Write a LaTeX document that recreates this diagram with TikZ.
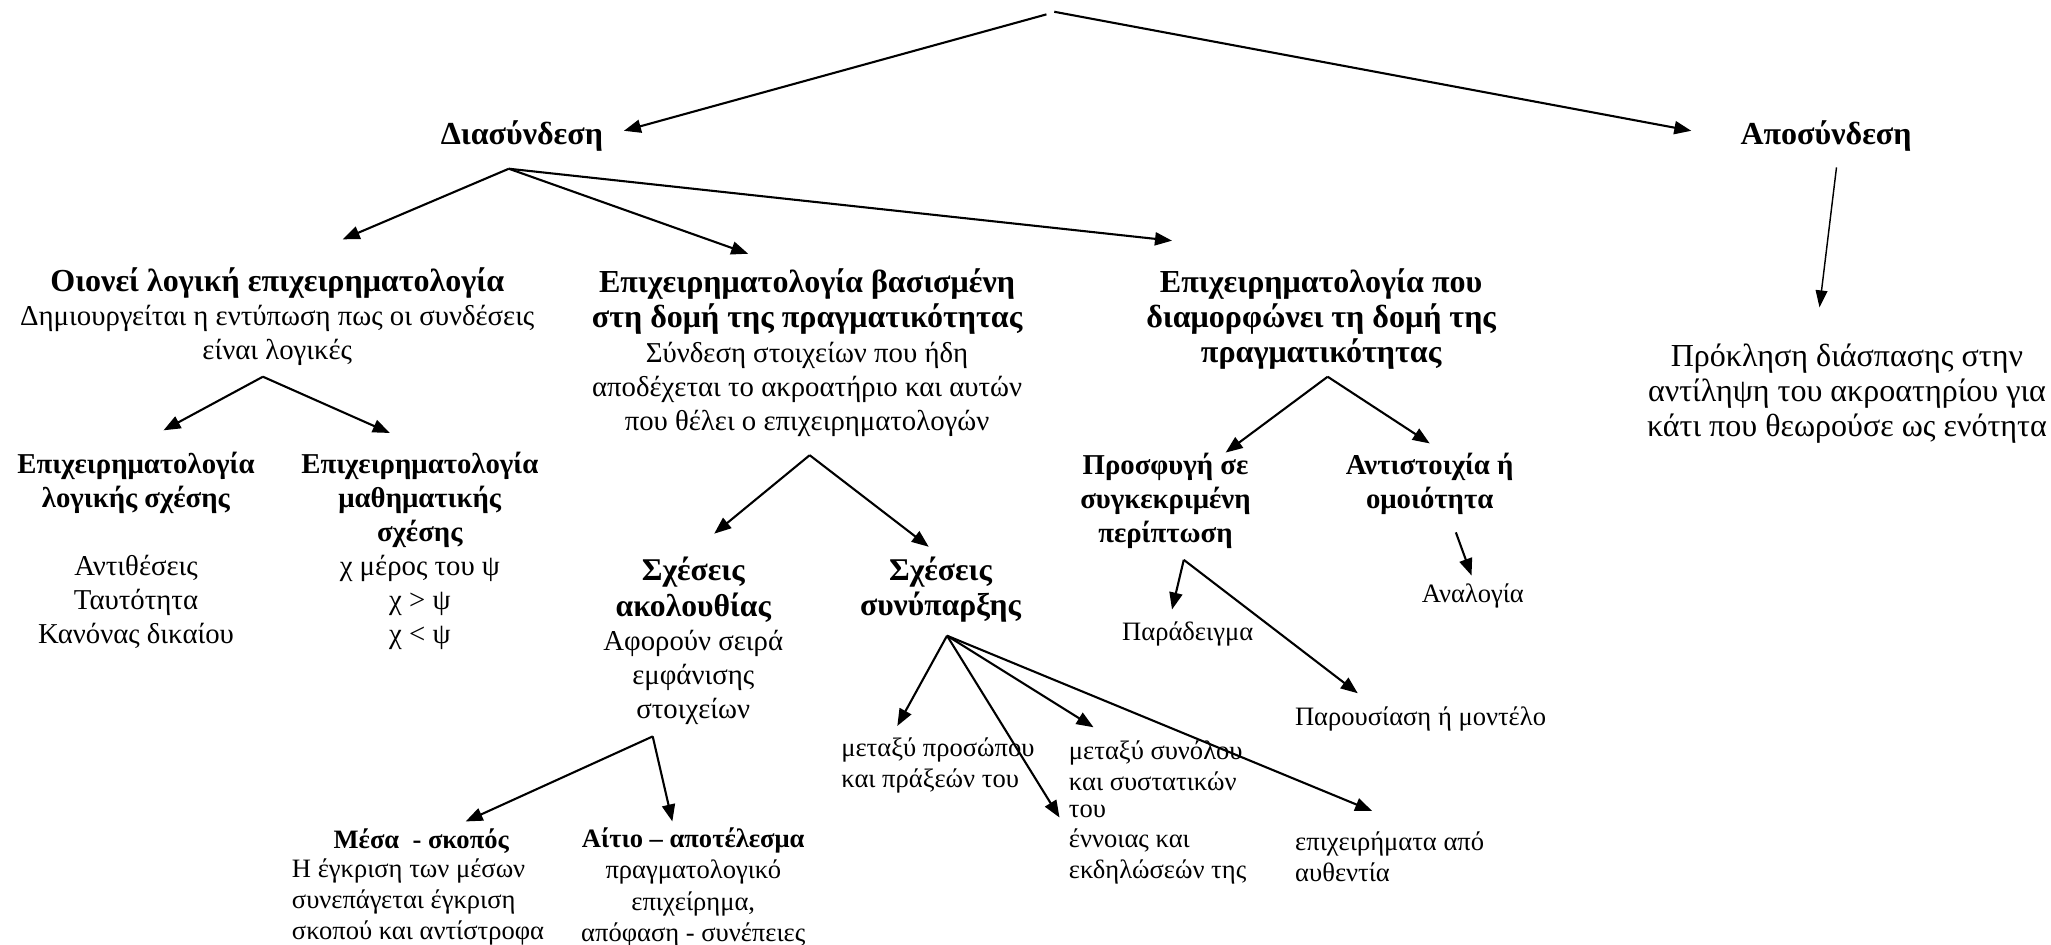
\documentclass[tikz,border=0pt]{standalone}
\usepackage{fontspec}
\setmainfont{Liberation Serif}
\usetikzlibrary{arrows.meta}
\newcommand{\bigb}[1]{{\fontsize{24.5}{28}\selectfont\bfseries #1}}
\newcommand{\midb}[1]{{\fontsize{24.2}{27}\selectfont\bfseries #1}}
\tikzset{
 arr/.style={line width=1.6pt, -{Triangle[length=13pt,width=10pt]}},
 thinarr/.style={line width=1.1pt, -{Triangle[length=13pt,width=9pt]}},
 big/.style={font=\fontsize{22}{26}\selectfont, align=center, inner sep=0pt},
 small/.style={font=\fontsize{20.3}{23.8}\selectfont, align=left, inner sep=0pt},
}
\begin{document}
\begin{tikzpicture}[x=1pt,y=-1pt]
\useasboundingbox (0,0) rectangle (1568,722);
% text nodes
\node[big] (dias) at (399,104) {\bigb{Διασύνδεση}};
\node[big] (apos) at (1396,104) {\bigb{Αποσύνδεση}};
\node[big] (oionei) at (212,242) {\bigb{Οιονεί λογική επιχειρηματολογία}\\Δημιουργείται η εντύπωση πως οι συνδέσεις\\είναι λογικές};
\node[big] (vasis) at (617,269.5) {\bigb{Επιχειρηματολογία βασισμένη}\\[1pt]\bigb{στη δομή της πραγματικότητας}\\[1pt]Σύνδεση στοιχείων που ήδη\\αποδέχεται το ακροατήριο και αυτών\\που θέλει ο επιχειρηματολογών};
\node[big] (diam) at (1010,244) {\bigb{Επιχειρηματολογία που}\\[1pt]\bigb{διαμορφώνει τη δομή της}\\[1pt]\bigb{πραγματικότητας}};
\node[big,font=\fontsize{24.5}{26.5}\selectfont] (prokl) at (1412,301) {Πρόκληση διάσπασης στην\\αντίληψη του ακροατηρίου για\\κάτι που θεωρούσε ως ενότητα};
\node[big] (logik) at (104,421) {\textbf{Επιχειρηματολογία}\\\textbf{λογικής σχέσης}\\[26pt]Αντιθέσεις\\Ταυτότητα\\Κανόνας δικαίου};
\node[big] (math) at (321,421.5) {\textbf{Επιχειρηματολογία}\\\textbf{μαθηματικής}\\\textbf{σχέσης}\\χ μέρος του ψ\\χ > ψ\\χ < ψ};
\node[big] (sxak) at (530,490) {\midb{Σχέσεις}\\[1pt]\midb{ακολουθίας}\\Αφορούν σειρά\\εμφάνισης\\στοιχείων};
\node[big] (sxsyn) at (719,451) {\midb{Σχέσεις}\\[1pt]\midb{συνύπαρξης}};
\node[big] (prosf) at (891,383) {\textbf{Προσφυγή σε}\\\textbf{συγκεκριμένη}\\\textbf{περίπτωση}};
\node[big] (antist) at (1093,370) {\textbf{Αντιστοιχία ή}\\\textbf{ομοιότητα}};
\node[small] (parad) at (908,484.5) {Παράδειγμα};
\node[small] (anal) at (1126,455.5) {Αναλογία};
\node[small] (parous) at (1086,549.5) {Παρουσίαση ή μοντέλο};
\node[small,font=\fontsize{20.3}{23.8}\selectfont\bfseries] (mesa) at (322,643) {Μέσα\ \ - σκοπός};
\node[small,anchor=west] (mesab) at (223,689.5) {Η έγκριση των μέσων\\συνεπάγεται έγκριση\\σκοπού και αντίστροφα};
\node[small,align=center] (aitio) at (530,678.5) {\textbf{Αίτιο – αποτέλεσμα}\\πραγματολογικό\\επιχείρημα,\\απόφαση - συνέπειες};
\node[small,anchor=west] (metpros) at (643,585.5) {μεταξύ προσώπου\\και πράξεών του};
\node[small,anchor=west] (metsyn) at (817,595.5) {μεταξύ συνόλου\\και συστατικών\\[-3pt]του};
\node[small,anchor=west] (ennoias) at (817,655) {έννοιας και\\εκδηλώσεών της};
\node[small,anchor=west] (epix) at (990,655) {επιχειρήματα από\\αυθεντία};
% connector points
\coordinate (t1) at (800,11); \coordinate (t2) at (806,9);
\coordinate (dS) at (389,129);
\coordinate (aS) at (1404,128); \coordinate (aE) at (1391,235);
\coordinate (oS) at (201,288);
\coordinate (vS) at (619,348);
\coordinate (sS) at (499,563);
\coordinate (yS) at (724,486);
\coordinate (mS) at (1015,288);
\coordinate (pS) at (905,428);
\coordinate (nS) at (1113,407);
\coordinate (dE) at (477,100); \coordinate (apE) at (1293,100);
\coordinate (oE) at (262,183); \coordinate (vE) at (572,194); \coordinate (mE) at (896,184);
\coordinate (lE) at (125,329); \coordinate (maE) at (298,331);
\coordinate (akE) at (546,408); \coordinate (syE) at (710,418);
\coordinate (meE) at (356,628); \coordinate (aiE) at (514,628);
\coordinate (mpE) at (686,555); \coordinate (enE) at (810,625); \coordinate (msE) at (836,556); \coordinate (epE) at (1049,620);
\coordinate (prE) at (937,346); \coordinate (anE) at (1093,339);
\coordinate (paE) at (896,466); \coordinate (puE) at (1038,530);
\coordinate (alE) at (1125,440);
% connectors
\draw[arr] (t1) -- (dE);
\draw[arr] (t2) -- (apE);
\draw[arr] (dS) -- (oE);
\draw[arr] (dS) -- (vE);
\draw[arr] (dS) -- (mE);
\draw[thinarr] (aS) -- (aE);
\draw[arr] (oS) -- (lE);
\draw[arr] (oS) -- (maE);
\draw[arr] (vS) -- (akE);
\draw[arr] (vS) -- (syE);
\draw[arr] (sS) -- (meE);
\draw[arr] (sS) -- (aiE);
\draw[arr] (yS) -- (mpE);
\draw[arr] (yS) -- (enE);
\draw[arr] (yS) -- (msE);
\draw[arr] (yS) -- (epE);
\draw[arr] (mS) -- (prE);
\draw[arr] (mS) -- (anE);
\draw[arr] (pS) -- (paE);
\draw[arr] (pS) -- (puE);
\draw[arr] (nS) -- (alE);
\end{tikzpicture}
\end{document}
